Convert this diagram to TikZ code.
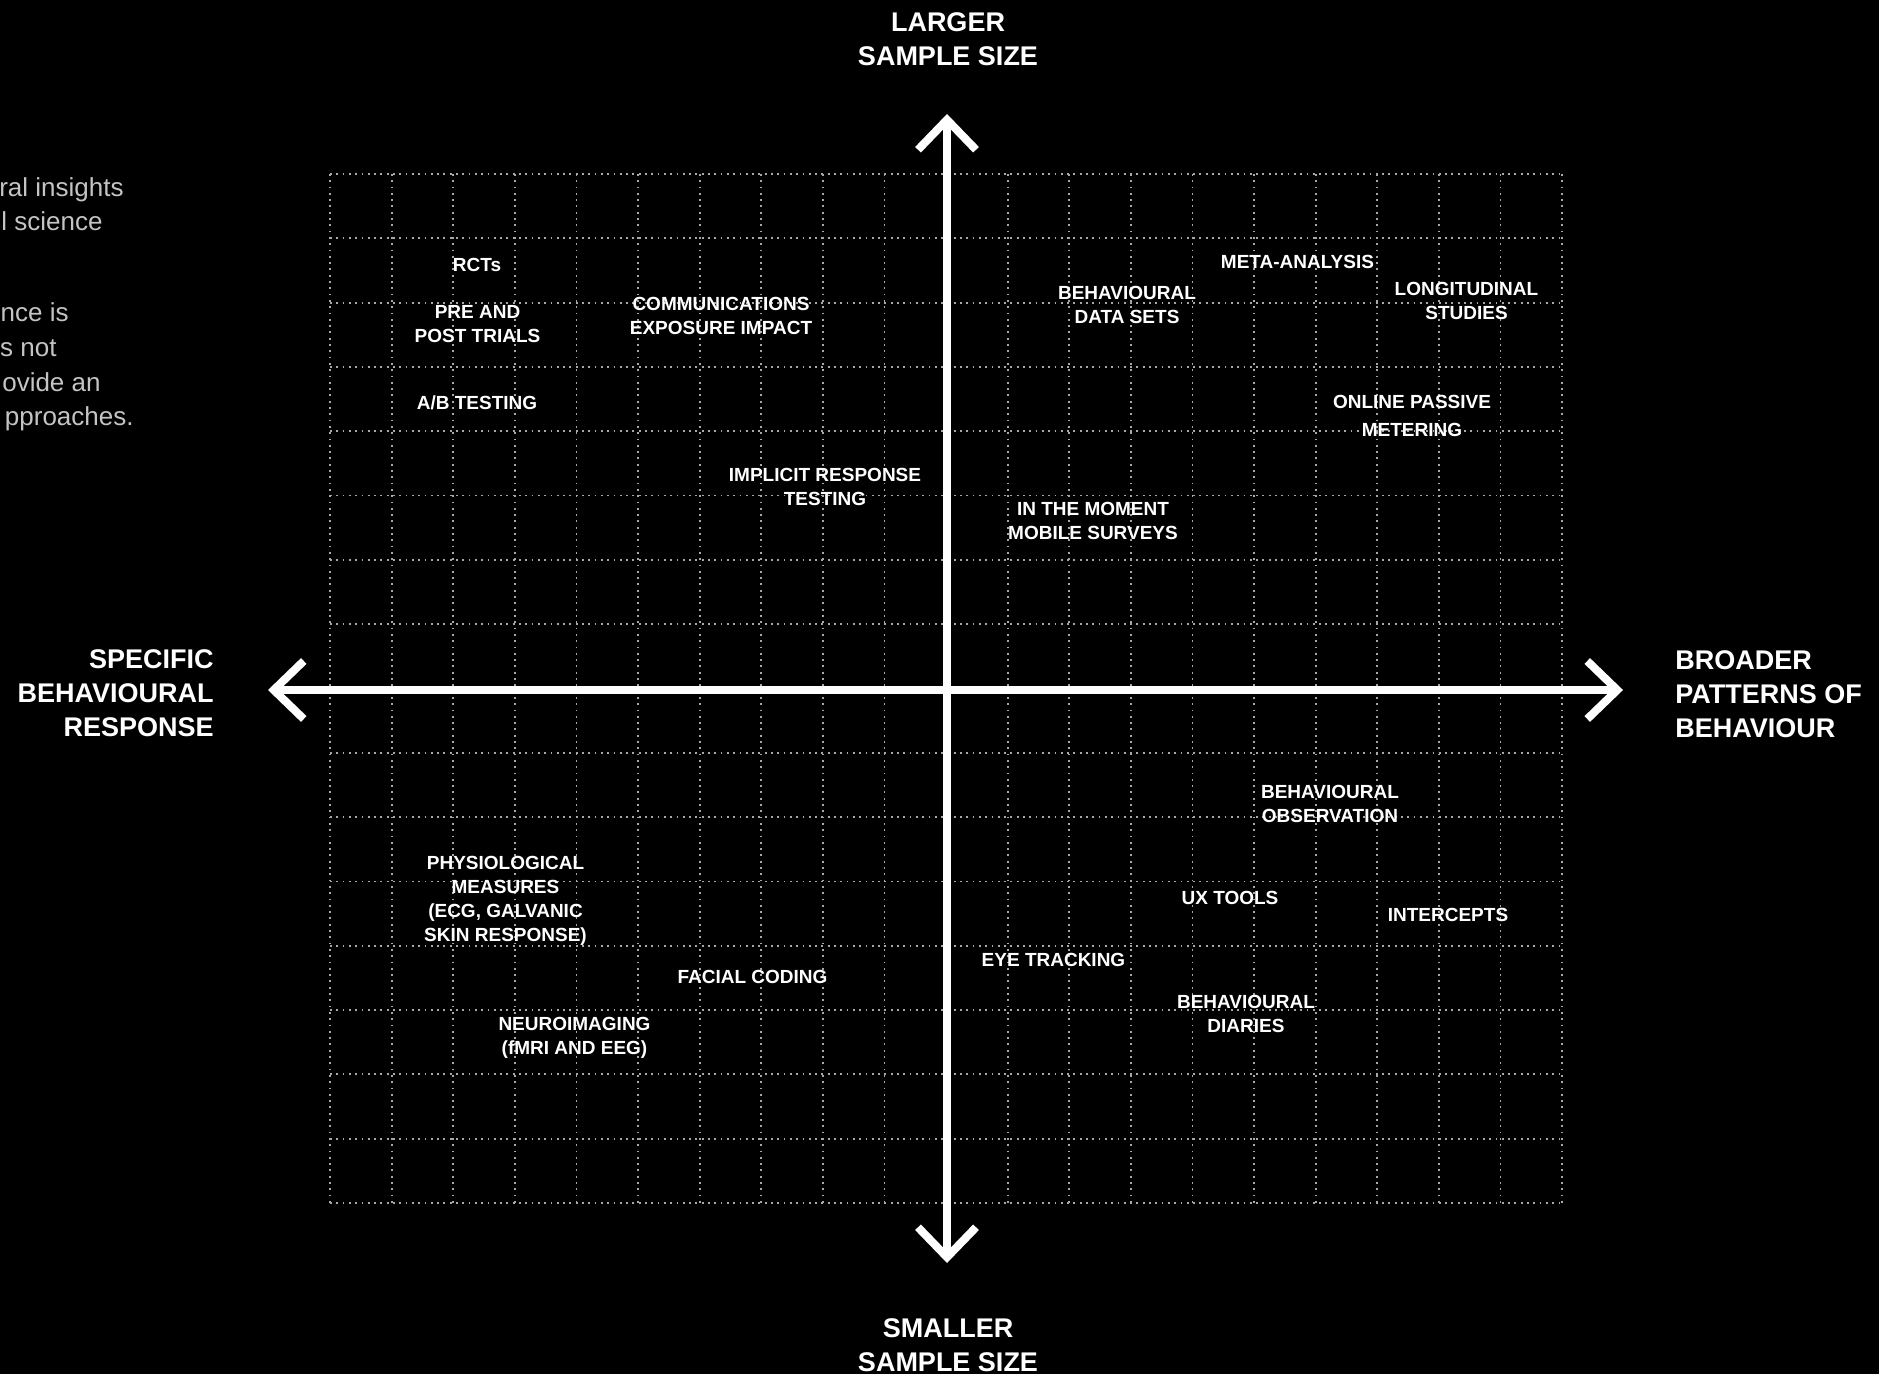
\documentclass[tikz,border=0pt]{standalone}
\usepackage{fontspec}
\setmainfont{Liberation Sans}
\usetikzlibrary{arrows.meta}
\definecolor{gridcol}{HTML}{A8A8A8}
\definecolor{introcol}{HTML}{C4C4C4}
\tikzset{
  gridline/.style={gridcol, line width=0.9pt, dash pattern=on 0.9pt off 2.25pt},
  axisline/.style={white, line width=4pt, line cap=butt,
    {Straight Barb[length=15pt, width=29pt, line join=miter, line cap=butt]}-{Straight Barb[length=15pt, width=29pt, line join=miter, line cap=butt]}},
  method/.style={text=white, inner sep=0pt, align=center, font=\bfseries\fontsize{9.5}{12}\selectfont},
  axislabel/.style={text=white, inner sep=0pt, font=\bfseries\fontsize{13.5}{17}\selectfont},
  intro/.style={text=introcol, inner sep=0pt, anchor=base east, font=\fontsize{13}{17}\selectfont}
}
\begin{document}
\begin{tikzpicture}[x=0.5pt, y=-0.5pt]
\fill[black] (0,0) rectangle (1879,1374);
\useasboundingbox (0,0) rectangle (1879,1374);

% intro text (clipped at the left edge)
\node[intro] (i1) at (124,197) {ral insights};
\node[intro] (i2) at (103,231) {l science};
\node[intro] (i3) at (69,322) {nce is};
\node[intro] (i4) at (57,357) {s not};
\node[intro] (i5) at (101,392) {ovide an};
\node[intro] (i6) at (134,426) {pproaches.};

% grid
\foreach \i in {0,...,20} \draw[gridline] (330+\i*61.6,174) -- (330+\i*61.6,1203);
\foreach \j in {0,...,16} \draw[gridline] (330,174+\j*64.3125) -- (1562,174+\j*64.3125);

% axes
\coordinate (ytop) at (947,114);
\coordinate (ybot) at (947,1263);
\coordinate (xleft) at (268,690);
\coordinate (xright) at (1623,690);
\draw[axisline] (ybot) -- (ytop);
\draw[axisline] (xleft) -- (xright);

% axis labels
\node[axislabel, align=center] (ltop) at (948,39) {LARGER\\SAMPLE SIZE};
\node[axislabel, align=center] (lbot) at (948,1345) {SMALLER\\SAMPLE SIZE};
\node[axislabel, align=right, anchor=east] (lleft) at (214,693) {SPECIFIC\\BEHAVIOURAL\\RESPONSE};
\node[axislabel, align=left, anchor=west] (lright) at (1675,694) {BROADER\\PATTERNS OF\\BEHAVIOUR};

% methods
\node[method] (rct) at (477,265) {RCTs};
\node[method] (prepost) at (477.5,324) {PRE AND\\POST TRIALS};
\node[method] (ab) at (477,403) {A/B TESTING};
\node[method] (comm) at (721,316) {COMMUNICATIONS\\EXPOSURE IMPACT};
\node[method] (bds) at (1127,305) {BEHAVIOURAL\\DATA SETS};
\node[method] (meta) at (1297.5,261.5) {META-ANALYSIS};
\node[method] (long) at (1466.5,300.5) {LONGITUDINAL\\STUDIES};
\node[method] (opm) at (1412,416) {ONLINE PASSIVE\\[1.75pt]METERING};
\node[method] (irt) at (825,487) {IMPLICIT RESPONSE\\TESTING};
\node[method] (itm) at (1093,520.5) {IN THE MOMENT\\MOBILE SURVEYS};
\node[method] (bobs) at (1330,803.5) {BEHAVIOURAL\\OBSERVATION};
\node[method] (ux) at (1230,897.5) {UX TOOLS};
\node[method] (icp) at (1448,915) {INTERCEPTS};
\node[method] (eye) at (1053.5,960) {EYE TRACKING};
\node[method] (diaries) at (1246,1014) {BEHAVIOURAL\\DIARIES};
\node[method] (phys) at (505.5,901) {PHYSIOLOGICAL\\MEASURES\\(ECG, GALVANIC\\SKIN RESPONSE)};
\node[method] (facial) at (752.5,977) {FACIAL CODING};
\node[method] (neuro) at (574.5,1038) {NEUROIMAGING\\(fMRI AND EEG)};
\end{tikzpicture}
\end{document}
